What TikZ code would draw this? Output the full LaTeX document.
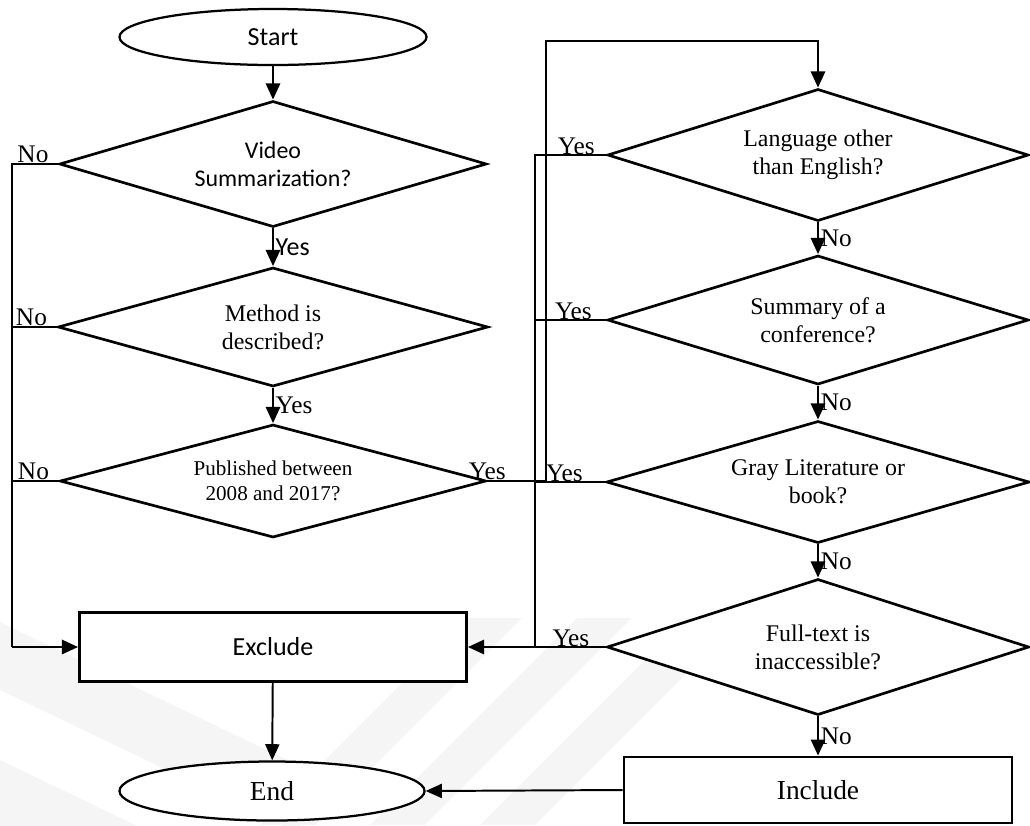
\documentclass[tikz,border=0pt]{standalone}
\usepackage{fontspec}
\setmainfont{Liberation Serif}
\newfontfamily\calibri{Carlito}
\usetikzlibrary{shapes.geometric,arrows.meta}

\begin{document}
\begin{tikzpicture}[x=0.025cm, y=-0.025cm,
		line/.style={line width=1.9pt},
		arr/.style={line, -{Triangle[length=11.5pt,width=10pt]}},
		decision/.style={diamond, draw, line width=1.9pt, fill=white, inner sep=0pt, aspect=3.3, align=center, font=\fontsize{17}{20}\selectfont},
		terminal/.style={ellipse, draw, line width=1.6pt, fill=white, inner sep=0pt},
		process/.style={rectangle, draw, line width=1.9pt, fill=white, inner sep=0pt},
		lbl/.style={font=\fontsize{18}{20}\selectfont, inner sep=1pt},
		sans/.style={font=\calibri\fontsize{18.5}{20}\selectfont}]
			\useasboundingbox (0,0) rectangle (1030,825);
			\begin{scope}
				\clip (0,618) rectangle (1030,825);
				\foreach \k in {0,138}
				\fill[gray!8] (0,622+\k) -- (300,766+\k) -- (300,834+\k) -- (0,690+\k) -- cycle;
				\foreach \j in {0,110,220}
				\fill[gray!8] (467+\j,618) -- (522+\j,618) -- (315+\j,825) -- (260+\j,825) -- cycle;
			\end{scope}
			\node[terminal, sans, minimum width=7.675cm, minimum height=1.4cm] (start) at (273,37) {Start};
			\node[decision, minimum width=10.675cm, minimum height=3.15cm, font=\calibri\fontsize{17}{20}\selectfont] (video) at (273,164) {Video\\Summarization?};
			\node[decision, minimum width=10.75cm, minimum height=2.975cm] (method) at (273,327) {Method is\\described?};
			\node[decision, minimum width=10.65cm, minimum height=2.825cm, font=\fontsize{15}{18}\selectfont] (published) at (273,481) {Published between\\2008 and 2017?};
			\node[process, sans, minimum width=9.675cm, minimum height=1.725cm] (exclude) at (273,647) {Exclude};
			\node[terminal, minimum width=7.625cm, minimum height=1.475cm, font=\fontsize{19.5}{22}\selectfont] (finish) at (272,791) {End};
			\node[decision, minimum width=10.525cm, minimum height=3.3cm] (language) at (818,155) {Language other\\than English?};
			\node[decision, minimum width=10.525cm, minimum height=3.225cm] (summary) at (818,320) {Summary of a\\conference?};
			\node[decision, minimum width=10.575cm, minimum height=3.05cm] (gray) at (818,482) {Gray Literature or\\book?};
			\node[decision, minimum width=10.55cm, minimum height=3.4cm] (fulltext) at (818,647) {Full-text is\\inaccessible?};
			\node[process, minimum width=9.7cm, minimum height=1.65cm, font=\fontsize{19.5}{22}\selectfont] (include) at (818,790) {Include};
			\coordinate (lbus) at (12,647);
			\coordinate (rbus) at (535,647);
			\coordinate (loop) at (546,41);
			\draw[arr] (start) -- (video);
			\draw[arr] (video) -- node[lbl, sans, right] (yes1) {Yes} (method);
			\draw[arr] (method) -- node[lbl, right] (yes2) {Yes} (published);
			\foreach \n in {video,method,published}
			\draw[line] (\n.west) -| (lbus);
			\draw[arr] (lbus) -- (exclude.west);
			\foreach \n in {video,method,published}
			\node[lbl, anchor=south east] (no-\n) at ([xshift=-0.2cm]\n.west) {No};
			\draw[arr] (published.east) -| (loop) -| (language.north);
			\node[lbl, anchor=south] (yes3) at (published.east) {Yes};
			\draw[arr] (language) -- node[lbl, right] (no4) {No} (summary);
			\draw[arr] (summary) -- node[lbl, right] (no5) {No} (gray);
			\draw[arr] (gray) -- node[lbl, right] (no6) {No} (fulltext);
			\draw[arr] (fulltext) -- node[lbl, right] (no7) {No} (include);
			\foreach \n in {language,summary,gray}
			\draw[line] (\n.west) -| (rbus);
			\draw[arr] (fulltext.west) -- (exclude.east);
			\foreach \n/\d in {language/0.28,summary/0.35,gray/0.55,fulltext/0.4}
			\node[lbl, anchor=south east, inner sep=0pt] (yes-\n) at ([xshift=-\d cm]\n.west) {Yes};
			\draw[arr, line width=1.4pt] (exclude) -- (finish);
			\draw[arr, line width=1.4pt] (include.west) -- (finish.east);
		\end{tikzpicture}
\end{document}
